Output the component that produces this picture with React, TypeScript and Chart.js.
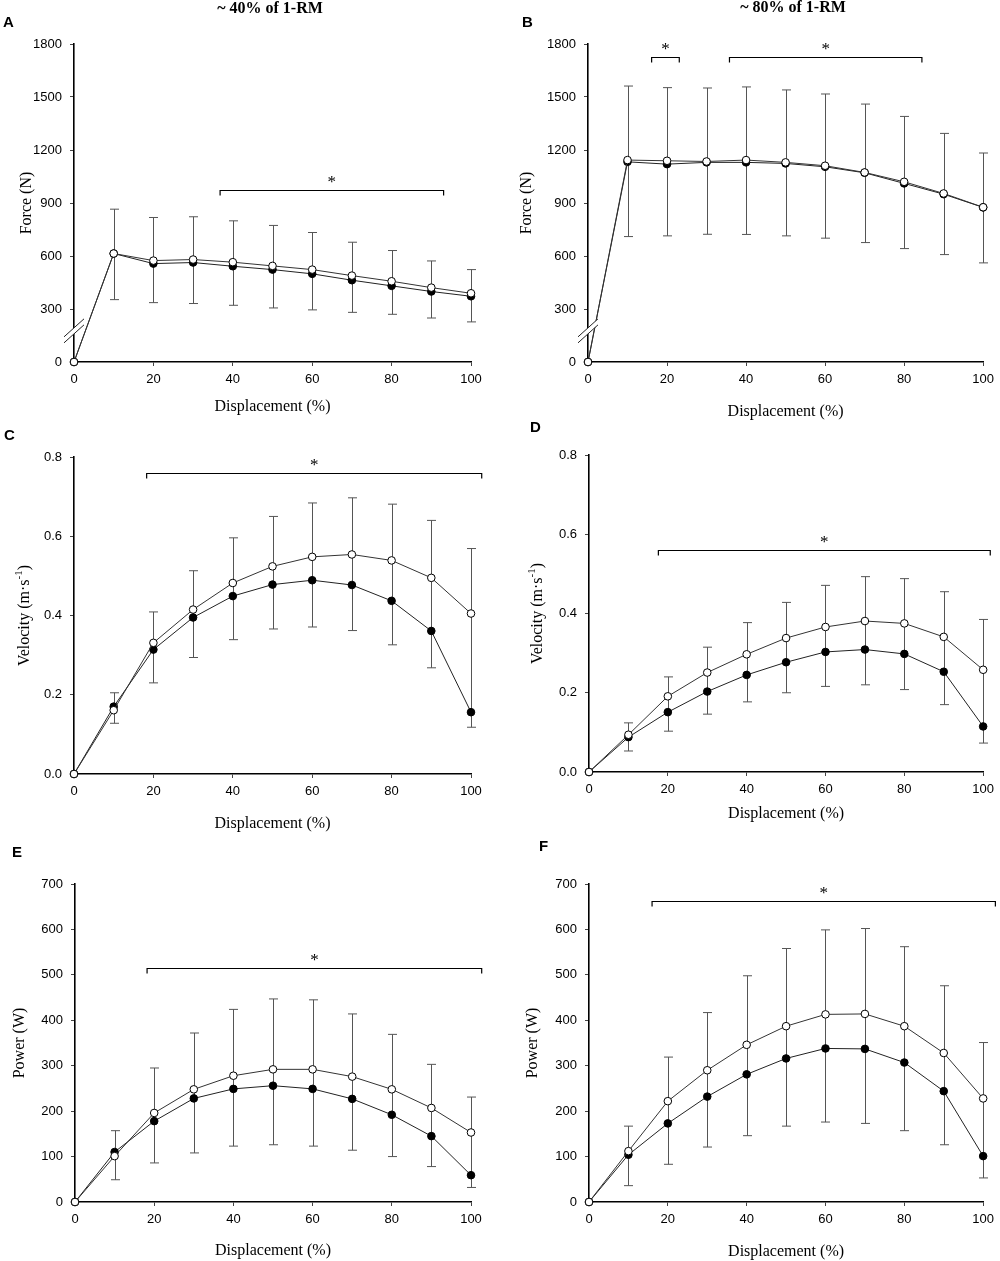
import { useEffect, useRef } from "react";
import { Chart, registerables } from "chart.js";

Chart.register(...registerables);

const SANS = '"Liberation Sans", Arial, Helvetica, sans-serif';
const SERIF = '"Liberation Serif", "Times New Roman", Times, serif';

// displacement (%) shared by all panels
const displacement = [0, 10, 20, 30, 40, 50, 60, 70, 80, 90, 100];

// A: force, ~40% of 1-RM
const forceOpen40 = [0, 614, 574, 580, 565, 544, 523, 489, 457, 421, 389];
const forceFilled40 = [0, 614, 557, 563, 542, 523, 499, 463, 431, 399, 372];
const forceOpenSd40 = [0, 251, 244, 242, 234, 229, 210, 189, 174, 151, 134];
const forceFilledSd40 = [0, 261, 221, 232, 221, 217, 204, 182, 161, 150, 145];

// B: force, ~80% of 1-RM
const forceOpen80 = [0, 1143, 1139, 1135, 1143, 1130, 1111, 1073, 1020, 954, 876];
const forceFilled80 = [0, 1133, 1120, 1130, 1130, 1124, 1105, 1071, 1011, 950, 875];
const forceOpenSd80 = [0, 419, 414, 416, 414, 410, 406, 387, 370, 340, 307];
const forceFilledSd80 = [0, 423, 406, 407, 408, 410, 404, 395, 369, 342, 314];

// C: velocity, ~40% of 1-RM
const velOpen40 = [0, 0.161, 0.331, 0.415, 0.482, 0.524, 0.548, 0.554, 0.539, 0.495, 0.405];
const velFilled40 = [0, 0.17, 0.314, 0.395, 0.449, 0.478, 0.489, 0.477, 0.437, 0.361, 0.156];
const velOpenSd40 = [0, 0.044, 0.078, 0.098, 0.114, 0.126, 0.136, 0.143, 0.142, 0.145, 0.164];
const velFilledSd40 = [0, 0.042, 0.084, 0.101, 0.11, 0.112, 0.118, 0.115, 0.111, 0.093, 0.038];

// D: velocity, ~80% of 1-RM
const velOpen80 = [0, 0.094, 0.191, 0.251, 0.297, 0.338, 0.366, 0.381, 0.375, 0.341, 0.258];
const velFilled80 = [0, 0.088, 0.151, 0.203, 0.245, 0.277, 0.303, 0.309, 0.298, 0.253, 0.115];
const velOpenSd80 = [0, 0.03, 0.049, 0.064, 0.08, 0.09, 0.105, 0.112, 0.113, 0.114, 0.127];
const velFilledSd80 = [0, 0.035, 0.048, 0.057, 0.068, 0.077, 0.087, 0.089, 0.09, 0.083, 0.042];

// E: power, ~40% of 1-RM
const powOpen40 = [0, 101, 196, 248, 278, 292, 292, 276, 248, 207, 153];
const powFilled40 = [0, 110, 178, 228, 249, 256, 249, 227, 192, 145, 59];
const powOpenSd40 = [0, 56, 99, 124, 146, 155, 153, 138, 121, 96, 78];
const powFilledSd40 = [0, 61, 92, 120, 126, 130, 126, 113, 92, 67, 27];

// F: power, ~80% of 1-RM
const powOpen80 = [0, 112, 222, 290, 346, 387, 413, 414, 387, 328, 228];
const powFilled80 = [0, 104, 173, 232, 281, 316, 338, 337, 307, 244, 101];
const powOpenSd80 = [0, 55, 97, 127, 152, 171, 186, 188, 175, 148, 123];
const powFilledSd80 = [0, 68, 90, 111, 135, 149, 162, 164, 150, 118, 48];

// significance brackets: [from %, to %, level]
const sigA = [[36.8, 93.1, 971]];
const sigB = [[16.1, 23.1, 1725], [35.8, 84.5, 1725]];
const sigC = [[18.3, 102.7, 0.76]];
const sigD = [[17.6, 101.8, 0.56]];
const sigE = [[18.2, 102.7, 516]];
const sigF = [[16.0, 103.1, 663]];

const panels = [
  {
    letter: "A", title: "~ 40% of 1-RM", titleX: 270, titleY: 9, letterX: 3, letterY: 23,
    x: 0, y: 0, w: 500, h: 420, left: 74, right: 471, top: 44, bottom: 362,
    yTitleX: 27, xTitleY: 407, yLabel: "Force (N)", yMax: 1800, yStep: 300, decimals: 0,
    open: forceOpen40, filled: forceFilled40, openSd: forceOpenSd40, filledSd: forceFilledSd40,
    sig: sigA, breakAt: 165,
  },
  {
    letter: "B", title: "~ 80% of 1-RM", titleX: 293, titleY: 8, letterX: 22, letterY: 23,
    x: 500, y: 0, w: 500, h: 420, left: 88, right: 485, top: 44, bottom: 362,
    yTitleX: 27, xTitleY: 412, yLabel: "Force (N)", yMax: 1800, yStep: 300, decimals: 0,
    open: forceOpen80, filled: forceFilled80, openSd: forceOpenSd80, filledSd: forceFilledSd80,
    sig: sigB, breakAt: 165,
  },
  {
    letter: "C", letterX: 4, letterY: 16,
    x: 0, y: 420, w: 500, h: 420, left: 74, right: 471, top: 37, bottom: 354,
    yTitleX: 25, xTitleY: 404, yLabel: "Velocity (m\u00b7s", ySup: "-1", yMax: 0.8, yStep: 0.2, decimals: 1,
    open: velOpen40, filled: velFilled40, openSd: velOpenSd40, filledSd: velFilledSd40,
    sig: sigC,
  },
  {
    letter: "D", letterX: 30, letterY: 8,
    x: 500, y: 420, w: 500, h: 420, left: 89, right: 486, top: 35, bottom: 352,
    yTitleX: 38, xTitleY: 394, yLabel: "Velocity (m\u00b7s", ySup: "-1", yMax: 0.8, yStep: 0.2, decimals: 1,
    open: velOpen80, filled: velFilled80, openSd: velOpenSd80, filledSd: velFilledSd80,
    sig: sigD,
  },
  {
    letter: "E", letterX: 12, letterY: 13,
    x: 0, y: 840, w: 500, h: 421, left: 75, right: 471, top: 44, bottom: 362,
    yTitleX: 20, xTitleY: 411, yLabel: "Power (W)", yMax: 700, yStep: 100, decimals: 0,
    open: powOpen40, filled: powFilled40, openSd: powOpenSd40, filledSd: powFilledSd40,
    sig: sigE,
  },
  {
    letter: "F", letterX: 39, letterY: 7,
    x: 500, y: 840, w: 500, h: 421, left: 89, right: 486, top: 44, bottom: 362,
    yTitleX: 33, xTitleY: 412, yLabel: "Power (W)", yMax: 700, yStep: 100, decimals: 0,
    open: powOpen80, filled: powFilled80, openSd: powOpenSd80, filledSd: powFilledSd80,
    sig: sigF,
  },
];

function PanelChart({ p }: { p: any }) {
  const canvasRef = useRef<HTMLCanvasElement>(null);

  useEffect(() => {
    const canvas = canvasRef.current;
    if (!canvas) return;

    const decor = {
      id: "decor",
      beforeDatasetsDraw(chart: any) {
        const { ctx } = chart;
        const xs = chart.scales.x;
        const ys = chart.scales.y;
        ctx.save();
        ctx.strokeStyle = "#555";
        ctx.lineWidth = 1;
        displacement.forEach((d, i) => {
          if (!p.openSd[i] && !p.filledSd[i]) return;
          const px = Math.round(xs.getPixelForValue(d)) + 0.5;
          const top = ys.getPixelForValue(p.open[i] + p.openSd[i]);
          const bot = ys.getPixelForValue(p.filled[i] - p.filledSd[i]);
          ctx.beginPath();
          ctx.moveTo(px, top);
          ctx.lineTo(px, bot);
          ctx.moveTo(px - 4.5, top);
          ctx.lineTo(px + 4.5, top);
          ctx.moveTo(px - 4.5, bot);
          ctx.lineTo(px + 4.5, bot);
          ctx.stroke();
        });
        ctx.restore();
      },
      afterDraw(chart: any) {
        const { ctx, chartArea } = chart;
        const xs = chart.scales.x;
        const ys = chart.scales.y;
        ctx.save();

        // axis break marks
        if (p.breakAt) {
          const ax = chartArea.left;
          const by = ys.getPixelForValue(p.breakAt);
          ctx.fillStyle = "#fff";
          ctx.beginPath();
          ctx.moveTo(ax - 10, by + 10);
          ctx.lineTo(ax + 10, by - 8);
          ctx.lineTo(ax + 10, by - 14);
          ctx.lineTo(ax - 10, by + 4);
          ctx.closePath();
          ctx.fill();
          ctx.strokeStyle = "#222";
          ctx.lineWidth = 1;
          ctx.beginPath();
          ctx.moveTo(ax - 10, by + 10);
          ctx.lineTo(ax + 10, by - 8);
          ctx.moveTo(ax - 10, by + 4);
          ctx.lineTo(ax + 10, by - 14);
          ctx.stroke();
        }

        // significance brackets
        ctx.strokeStyle = "#000";
        ctx.lineWidth = 1.2;
        ctx.fillStyle = "#000";
        ctx.font = `17px ${SERIF}`;
        ctx.textAlign = "center";
        ctx.textBaseline = "alphabetic";
        p.sig.forEach(([a, b, lvl]: number[]) => {
          const x1 = xs.getPixelForValue(a);
          const x2 = xs.getPixelForValue(b);
          const yy = Math.round(ys.getPixelForValue(lvl)) + 0.5;
          ctx.beginPath();
          ctx.moveTo(x1, yy + 5);
          ctx.lineTo(x1, yy);
          ctx.lineTo(x2, yy);
          ctx.lineTo(x2, yy + 5);
          ctx.stroke();
          ctx.fillText("*", (x1 + x2) / 2, yy - 4);
        });

        // x axis title
        const cx = (chartArea.left + chartArea.right) / 2;
        ctx.font = `16px ${SERIF}`;
        ctx.textBaseline = "middle";
        ctx.fillText("Displacement (%)", cx, p.xTitleY);

        // y axis title (rotated)
        const cy = (chartArea.top + chartArea.bottom) / 2;
        ctx.save();
        ctx.translate(p.yTitleX, cy);
        ctx.rotate(-Math.PI / 2);
        ctx.textAlign = "left";
        ctx.font = `16px ${SERIF}`;
        const w1 = ctx.measureText(p.yLabel).width;
        let total = w1;
        let wSup = 0;
        let wEnd = 0;
        if (p.ySup) {
          ctx.font = `11px ${SERIF}`;
          wSup = ctx.measureText(p.ySup).width;
          ctx.font = `16px ${SERIF}`;
          wEnd = ctx.measureText(")").width;
          total = w1 + wSup + wEnd;
        }
        let sx = -total / 2;
        ctx.fillText(p.yLabel, sx, 0);
        if (p.ySup) {
          sx += w1;
          ctx.font = `11px ${SERIF}`;
          ctx.fillText(p.ySup, sx, -6);
          sx += wSup;
          ctx.font = `16px ${SERIF}`;
          ctx.fillText(")", sx, 0);
        }
        ctx.restore();

        // panel title
        if (p.title) {
          ctx.font = `bold 16px ${SERIF}`;
          ctx.textAlign = "center";
          ctx.textBaseline = "middle";
          ctx.fillText(p.title, p.titleX, p.titleY);
        }

        // panel letter
        ctx.font = `bold 15px ${SANS}`;
        ctx.textAlign = "left";
        ctx.textBaseline = "middle";
        ctx.fillText(p.letter, p.letterX, p.letterY);

        ctx.restore();
      },
    };

    const pointsOf = (vals: number[]) => displacement.map((d, i) => ({ x: d, y: vals[i] }));

    const chart = new Chart(canvas, {
      type: "line",
      data: {
        datasets: [
          {
            data: pointsOf(p.open),
            borderColor: "#333",
            borderWidth: 1,
            pointRadius: 3.8,
            pointBackgroundColor: "#fff",
            pointBorderColor: "#000",
            pointBorderWidth: 1,
            clip: false,
          },
          {
            data: pointsOf(p.filled),
            borderColor: "#222",
            borderWidth: 1,
            pointRadius: 3.8,
            pointBackgroundColor: "#000",
            pointBorderColor: "#000",
            pointBorderWidth: 1,
            clip: false,
          },
        ],
      },
      options: {
        animation: false,
        responsive: false,
        events: [],
        layout: { padding: { left: 0, top: p.top, right: p.w - p.right, bottom: 0 } },
        plugins: { legend: { display: false }, tooltip: { enabled: false }, title: { display: false } },
        scales: {
          x: {
            type: "linear",
            min: 0,
            max: 100,
            ticks: { stepSize: 20, color: "#000", font: { size: 13, family: SANS }, padding: 6, maxRotation: 0 },
            grid: { display: true, drawOnChartArea: false, drawTicks: true, tickLength: 4, color: "#444" },
            border: { display: true, color: "#000", width: 1.6 },
            afterFit: (s: any) => {
              s.height = p.h - p.bottom;
            },
          },
          y: {
            type: "linear",
            min: 0,
            max: p.yMax,
            ticks: {
              stepSize: p.yStep,
              color: "#000",
              font: { size: 13, family: SANS },
              padding: 8,
              callback: (v: any) => Number(v).toFixed(p.decimals),
            },
            grid: { display: true, drawOnChartArea: false, drawTicks: true, tickLength: 4, color: "#444" },
            border: { display: true, color: "#000", width: 1.6 },
            afterFit: (s: any) => {
              s.width = p.left;
            },
          },
        },
      },
      plugins: [decor],
    });

    return () => chart.destroy();
  }, [p]);

  return (
    <div style={{ position: "absolute", left: p.x, top: p.y, width: p.w, height: p.h }}>
      <canvas ref={canvasRef} width={p.w} height={p.h} style={{ width: p.w, height: p.h, display: "block" }} />
    </div>
  );
}

export default function App() {
  return (
    <div style={{ position: "absolute", left: 0, top: 0, width: 1000, height: 1261, background: "#fff" }}>
      {panels.map((p) => (
        <PanelChart key={p.letter} p={p} />
      ))}
    </div>
  );
}
